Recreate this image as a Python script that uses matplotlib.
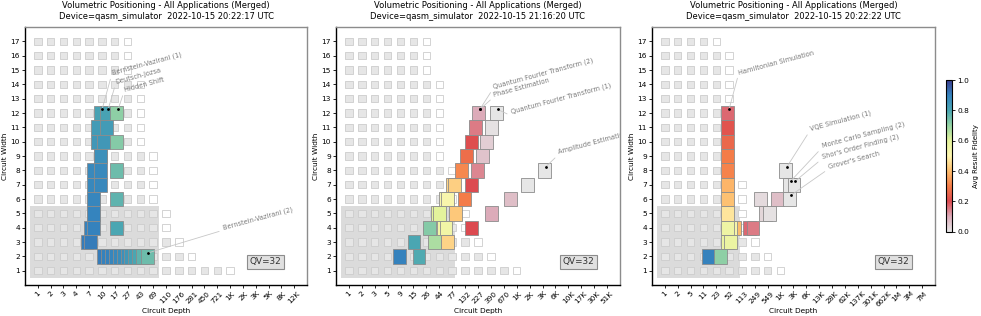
import numpy as np
import matplotlib
matplotlib.use("Agg")
import matplotlib.pyplot as plt
from matplotlib.patches import Rectangle
from matplotlib.colors import LinearSegmentedColormap, Normalize
from matplotlib.cm import ScalarMappable

# ---------------- data ----------------
suptitle = "Volumetric Positioning - All Applications (Merged)"
device_lines = [
    "Device=qasm_simulator  2022-10-15 20:22:17 UTC",
    "Device=qasm_simulator  2022-10-15 21:16:20 UTC",
    "Device=qasm_simulator  2022-10-15 20:22:22 UTC",
]
qv_value = 32
qv_depth = 66
depth_bases = [1.6, 1.72, 2.2]

depth_labels_1 = ["1", "2", "3", "4", "7", "10", "17", "27", "43", "69", "110",
                  "176", "281", "450", "721", "1K", "2K", "3K", "5K", "8K", "12K"]
depth_labels_2 = ["1", "2", "3", "5", "9", "15", "26", "44", "77", "132", "227",
                  "390", "670", "1K", "2K", "3K", "6K", "10K", "17K", "30K", "51K"]
depth_labels_3 = ["1", "2", "5", "11", "23", "52", "113", "249", "549", "1K", "3K",
                  "6K", "13K", "28K", "62K", "137K", "301K", "662K", "1M", "3M", "7M"]

# index of the last (empty) background square, for widths 1..17
grid_1 = [15, 12, 11, 10, 10, 9, 9, 9, 9, 8, 8, 8, 8, 8, 7, 7, 7]
grid_2 = [13, 11, 10, 9, 9, 8, 8, 8, 7, 7, 7, 7, 7, 7, 6, 6, 6]
grid_3 = [9, 8, 7, 6, 6, 6, 6, 5, 5, 5, 5, 5, 5, 5, 5, 5, 4]

# panel 1: BV(1) / DJ, Hidden Shift, BV(2)
depths_1 = [6.08, 6.87, 6.87, 7.76, 7.76, 7.76, 7.76, 7.76, 7.76, 9.91, 7.76, 9.91,
            9.91, 9.91, 8.77, 10.99, 8.77, 12.36, 10.05, 12.54,
            17.67, 17.67, 17.67, 17.67, 18.08,
            11.0, 13.0, 14.9, 17.2, 19.8, 22.8, 26.2, 30.2, 34.8, 40.0, 46.1, 55.1]
widths_1 = [3, 3, 4, 4, 5, 5, 6, 6, 7, 7, 8, 8,
            9, 9, 10, 10, 11, 11, 12, 12,
            4, 6, 8, 10, 12,
            2, 2, 2, 2, 2, 2, 2, 2, 2, 2, 2, 2]
fids_1 = [0.91, 0.91, 0.9, 0.9, 0.895, 0.895, 0.89, 0.89, 0.885, 0.885, 0.88, 0.88,
          0.86, 0.86, 0.84, 0.84, 0.83, 0.83, 0.81, 0.81,
          0.8, 0.77, 0.75, 0.72, 0.71,
          0.91, 0.9, 0.9, 0.89, 0.88, 0.87, 0.86, 0.84, 0.82, 0.8, 0.77, 0.75]

# panel 2: QFT (1), QFT (2), Phase Estimation, Amplitude Estimation
depths_2 = [8.52, 19.0,
            15.38, 37.0, 63.4,
            29.0, 53.8, 59.0, 170.0,
            41.1, 45.8, 87.7, 396,
            58.4, 62.3, 128.2, 898,
            78.7, 84.0, 170.0, 1817,
            111.4, 221.7, 3698,
            137.6, 271.0,
            170.0, 325.8,
            201.1, 402.8,
            231.6, 489.5]
widths_2 = [2, 2, 3, 3, 3, 4, 4, 4, 4, 5, 5, 5, 5, 6, 6, 6, 6, 7, 7, 7, 7,
            8, 8, 8, 9, 9, 10, 10, 11, 11, 12, 12]
fids_2 = [0.9, 0.79,
          0.8, 0.67, 0.44,
          0.72, 0.55, 0.55, 0.2,
          0.6, 0.6, 0.42, 0.1,
          0.52, 0.52, 0.3, 0.07,
          0.44, 0.43, 0.2, 0.0,
          0.32, 0.14, 0.0,
          0.27, 0.06,
          0.21, 0.04,
          0.15, 0.01,
          0.1, 0.0]

# panel 3: Hamiltonian Simulation, VQE, Monte Carlo, Shor, Grover
depths_3 = [47.3, 47.3, 47.3, 47.3, 47.3, 47.3, 47.3, 47.3,
            73.5, 55.8, 46.2, 182.0, 221.6,
            46.2, 55.8,
            14.4, 31.1,
            480, 613,
            352.7, 1007, 2067,
            2067, 2745,
            1643]
widths_3 = [12, 11, 10, 9, 8, 7, 6, 5,
            4, 4, 4, 4, 4,
            3, 3,
            2, 2,
            5, 5,
            6, 6, 6,
            7, 7,
            8]
fids_3 = [0.17, 0.22, 0.26, 0.3, 0.31, 0.39, 0.41, 0.47,
          0.4, 0.53, 0.56, 0.17, 0.15,
          0.57, 0.57,
          0.9, 0.71,
          0.03, 0.01,
          0.02, 0.07, 0.0,
          0.0, 0.0,
          0.0]

annot_1 = [("Bernstein-Vazirani (1)", 10.05, 12), ("Deutsch-Jozsa", 12.54, 12),
           ("Hidden Shift", 18.08, 12), ("Bernstein-Vazirani (2)", 55.1, 2)]
annot_2 = [("Quantum Fourier Transform (2)", 231.6, 12), ("Phase Estimation", 231.6, 12),
           ("Quantum Fourier Transform (1)", 489.5, 12), ("Amplitude Estimation", 3698, 8)]
annot_3 = [("Hamiltonian Simulation", 47.3, 12), ("VQE Simulation (1)", 1643, 8),
           ("Monte Carlo Sampling (2)", 2067, 7), ("Shor's Order Finding (2)", 2745, 7),
           ("Grover's Search", 2067, 6)]

# label start positions (x in tick index, y in width)
label_pos_1 = [(5.85, 14.55), (6.16, 13.95), (6.81, 13.4), (14.49, 3.8)]
label_pos_2 = [(11.24, 13.62), (11.29, 13.08), (12.6, 11.85), (16.3, 9.05)]
label_pos_3 = [(5.82, 14.62), (11.34, 10.67), (12.26, 9.5), (12.26, 8.74), (12.77, 8.05)]

# ---------------- style ----------------
cmap = LinearSegmentedColormap.from_list("fidelity", [
    (0.0, "#e6e6e6"), (0.1, "#dcaab8"), (0.2, "#dc4a50"), (0.3, "#f47d48"),
    (0.4, "#fdbd6d"), (0.5, "#fef6b0"), (0.6, "#e4f39c"), (0.7, "#95d4a4"),
    (0.8, "#4aa6b2"), (0.9, "#3583be"), (1.0, "#3b3e90")])
norm = Normalize(0, 1)

fig = plt.figure(figsize=(9.81, 3.16), dpi=100)
ax_rects = [[0.0255, 0.098, 0.2875, 0.8165],
            [0.3425, 0.098, 0.2895, 0.8165],
            [0.6646, 0.098, 0.2885, 0.8165]]

panels = [
    (depth_labels_1, grid_1, depths_1, widths_1, fids_1, annot_1, label_pos_1),
    (depth_labels_2, grid_2, depths_2, widths_2, fids_2, annot_2, label_pos_2),
    (depth_labels_3, grid_3, depths_3, widths_3, fids_3, annot_3, label_pos_3),
]

for k, (labels, grid, depths, widths, fids, annots, lpos) in enumerate(panels):
    ax = fig.add_axes(ax_rects[k])
    base = depth_bases[k]
    ax.set_xlim(-1, 21)
    ax.set_ylim(0, 18)

    # QV region
    qv_right = np.log(qv_depth) / np.log(base) + 0.5
    ax.add_patch(Rectangle((-0.6, 0.5), qv_right + 0.6, np.log2(qv_value),
                           facecolor=(0.86, 0.86, 0.86), edgecolor="none", zorder=0))

    # background squares
    for w, last in enumerate(grid, start=1):
        for i in range(last + 1):
            fc = "white" if i == last else (0.9, 0.9, 0.9)
            ax.add_patch(Rectangle((i - 0.29, w - 0.26), 0.58, 0.52, facecolor=fc,
                                   edgecolor=(0.8, 0.8, 0.8), lw=0.6, zorder=1))

    # data boxes
    for d, w, f in zip(depths, widths, fids):
        x = np.log(d) / np.log(base)
        ax.add_patch(Rectangle((x - 0.5, w - 0.5), 1.0, 1.0, facecolor=cmap(norm(f)),
                               edgecolor=(0.55, 0.55, 0.55), lw=0.6, zorder=2))

    # annotations
    for (name, d, w), (tx, ty) in zip(annots, lpos):
        px = np.log(d) / np.log(base) + 0.1
        py = w + 0.25
        ax.annotate(name, xy=(px, py), xytext=(tx, ty), textcoords="data",
                    rotation=15, rotation_mode="anchor", ha="left", va="bottom",
                    fontsize=4.8, color=(0.48, 0.48, 0.48), clip_on=True, zorder=4,
                    arrowprops=dict(arrowstyle="-", color=(0.78, 0.78, 0.78), lw=0.6,
                                    shrinkA=0, shrinkB=0, relpos=(0, 0)))
        ax.plot(px, py, marker="o", ms=1.0, color="black", zorder=5)

    ax.text(0.853, 0.09, f"QV={qv_value}", transform=ax.transAxes, ha="center",
            va="center", fontsize=6.4, color=(0.2, 0.2, 0.2), zorder=6,
            bbox=dict(boxstyle="square,pad=0.3", facecolor=(0.88, 0.88, 0.88),
                      edgecolor=(0.55, 0.55, 0.55), lw=0.8))

    ax.set_xticks(range(len(labels)))
    ax.set_xticklabels(labels, rotation=45, fontsize=5.3)
    ax.set_yticks(range(1, 18))
    ax.set_yticklabels([str(v) for v in range(1, 18)], fontsize=5.3)
    ax.tick_params(length=2.2, width=0.6, pad=1.5)
    ax.set_xlabel("Circuit Depth", fontsize=5.3)
    ax.xaxis.set_label_coords(0.5, -0.088)
    ax.set_ylabel("Circuit Width", fontsize=5.3, labelpad=2)
    ax.set_title(f"{suptitle}\n{device_lines[k]}", fontsize=6.0, pad=6)
    for side in ["left", "bottom"]:
        ax.spines[side].set_linewidth(1.0)
    for side in ["top", "right"]:
        ax.spines[side].set_color((0.55, 0.55, 0.55))
        ax.spines[side].set_linewidth(1.0)

# colorbar
cax = fig.add_axes([0.9643, 0.2668, 0.0061, 0.480])
cb = fig.colorbar(ScalarMappable(norm=norm, cmap=cmap), cax=cax)
cb.set_ticks([0.0, 0.2, 0.4, 0.6, 0.8, 1.0])
cb.ax.tick_params(labelsize=5.3, length=2.2, width=0.6, pad=1.5)
cb.set_label("Avg Result Fidelity", fontsize=5.0, labelpad=3)
cb.outline.set_linewidth(0.8)

fig.savefig("out.png", dpi=100)
